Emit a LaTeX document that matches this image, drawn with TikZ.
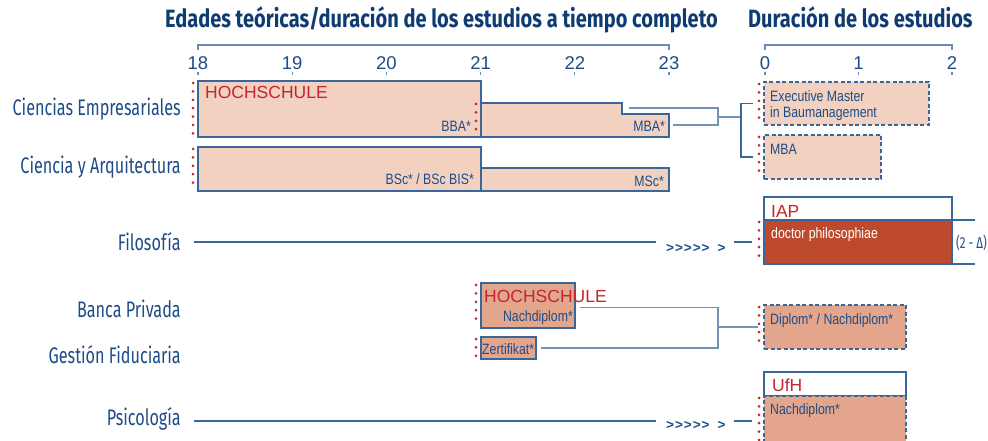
\documentclass[tikz,border=0pt]{standalone}
\usepackage{fontspec}
\setmainfont{Liberation Sans}
\newfontfamily\condfont{Fira Sans}[FakeStretch=0.72]
\newfontfamily\titlefont{Fira Sans}[FakeStretch=0.80]
\newfontfamily\narrowfont{Liberation Sans}[FakeStretch=0.82]
\usetikzlibrary{positioning,calc}
\definecolor{titleblue}{HTML}{0F3B73}
\definecolor{txtblue}{HTML}{1D4C87}
\definecolor{lineblue}{HTML}{3A6799}
\definecolor{connblue}{HTML}{7393BA}
\definecolor{axisblue}{HTML}{6A8BB3}
\definecolor{peachL}{HTML}{F2D1C0}
\definecolor{peachD}{HTML}{E3A68C}
\definecolor{rustred}{HTML}{BD4A2C}
\definecolor{hsred}{HTML}{C1272D}
\newcommand\chevrons{>\kern1pt>\kern1pt>\kern1pt>\kern1pt>\hspace{8pt}>}
\tikzset{
  edge/.style={draw=lineblue,line width=1.1pt},
  box/.style={edge,anchor=north west,inner sep=0pt,outer sep=0pt},
  boxL/.style={box,fill=peachL},
  boxD/.style={box,fill=peachD},
  dashL/.style={boxL,dash pattern=on 4pt off 2.5pt},
  dashD/.style={boxD,dash pattern=on 4pt off 2.5pt},
  head/.style={box,fill=white},
  lbl/.style={anchor=base east,inner sep=0pt,text=txtblue,font=\condfont\fontsize{22.5}{24}\selectfont},
  ttl/.style={anchor=base west,inner sep=0pt,text=titleblue,font=\titlefont\bfseries\fontsize{25}{27}\selectfont},
  tick/.style={anchor=base,inner sep=0pt,text=txtblue,font=\fontsize{18.5}{20}\selectfont},
  btxt/.style={inner sep=0pt,text=txtblue,font=\narrowfont\fontsize{15}{16}\selectfont},
  hs/.style={anchor=base west,inner sep=0pt,text=hsred,font=\fontsize{17.5}{19}\selectfont},
  chev/.style={anchor=base west,inner sep=0pt,text=txtblue,font=\bfseries\fontsize{13.5}{14}\selectfont},
  axis/.style={draw=axisblue,line width=1.3pt},
  conn/.style={draw=connblue,line width=1.4pt},
  conn2/.style={draw=lineblue,line width=1.4pt},
  startdots/.style={draw=hsred,line width=3pt,line cap=round,dash pattern=on 0pt off 8.4pt}
}
\begin{document}
\begin{tikzpicture}[x=1pt,y=-1pt]
\useasboundingbox (0,0) rectangle (988,441);
% titles and scales
\node[ttl] (ttlAge) at (165,28) {Edades teóricas/duración de los estudios a tiempo completo};
\node[ttl] (ttlDur) at (748,28) {Duración de los estudios};
\draw[axis] (198,50) -- (198,45) -- (669,45) -- (669,50);
\foreach \a [count=\i from 0] in {18,...,23} {
  \node[tick] (age\a) at (198+94.2*\i,70) {\a};
  \draw[axis] ([yshift=-2pt]age\a.base) -- ++(0,3);
}
\draw[axis] (765,50) -- (765,45) -- (952,45) -- (952,50);
\foreach \d [count=\i from 0] in {0,1,2} {
  \node[tick] (dur\d) at (765+93.5*\i,70) {\d};
  \draw[axis] ([yshift=-2pt]dur\d.base) -- ++(0,3);
}
% row labels
\node[lbl] (lblCE) at (181,116) {Ciencias Empresariales};
\node[lbl] (lblCA) at (181,173) {Ciencia y Arquitectura};
\node[lbl] (lblFil) at (181,250) {Filosofía};
\node[lbl] (lblBP) at (181,317) {Banca Privada};
\node[lbl] (lblGF) at (181,363) {Gestión Fiduciaria};
\node[lbl] (lblPsy) at (181,425) {Psicología};
% Hochschule bars
\node[boxL,minimum width=283,minimum height=56] (hsBE) at (198,81) {};
\coordinate (mbaNW) at (481,103);
\coordinate (mbaSW) at (481,137);
\coordinate (mbaStep) at (622,108);
\coordinate (mbaEnd) at (669,125);
\coordinate (mbaSE) at (669,137);
\filldraw[edge,fill=peachL] (mbaNW) -- (622,103) -- (622,114) -- (669,114) -- (mbaSE) -- (mbaSW) -- cycle;
\node[boxL,minimum width=283,minimum height=44] (hsCA) at (198,147) {};
\node[boxL,minimum width=188,minimum height=23] (msc) at (481,168) {};
\node[boxD,minimum width=94,minimum height=45] (hsBP) at (481,283) {};
\node[boxD,minimum width=55,minimum height=22] (zert) at (481,337) {};
% study length bars
\node[dashL,minimum width=165,minimum height=43] (exm) at (764,82) {};
\node[dashL,minimum width=117,minimum height=44] (mbaR) at (764,135) {};
\node[head,minimum width=188,minimum height=23] (iap) at (764,197) {};
\node[box,fill=rustred,minimum width=188,minimum height=44] (dphil) at (764,220) {};
\node[dashD,minimum width=142,minimum height=44] (dipl) at (764,305) {};
\node[head,minimum width=142,minimum height=24] (ufh) at (764,372) {};
\node[dashD,minimum width=142,minimum height=50] (nachd) at (764,396) {};
% texts in bars
\node[hs] (hsBEt) at ([xshift=7pt,yshift=-18pt]hsBE.north west) {HOCHSCHULE};
\node[btxt,anchor=base east] (bba) at ([xshift=-10pt,yshift=5pt]hsBE.south east) {BBA*};
\node[btxt,anchor=base east] (mbat) at ([xshift=-4pt,yshift=5pt]mbaSE) {MBA*};
\node[btxt,anchor=base east] (bsc) at ([xshift=-7pt,yshift=6pt]hsCA.south east) {BSc* / BSc BIS*};
\node[btxt,anchor=base east] (msct) at ([xshift=-5pt,yshift=5pt]msc.south east) {MSc*};
\node[btxt,anchor=north west,align=left] (exmt) at ([xshift=6pt,yshift=-8pt]exm.north west) {Executive Master\\in Baumanagement};
\node[btxt,anchor=base west] (mbaRt) at ([xshift=6pt,yshift=-20pt]mbaR.north west) {MBA};
\node[hs] (iapt) at ([xshift=7pt,yshift=-20pt]iap.north west) {IAP};
\node[btxt,anchor=base west,text=white] (dphilt) at ([xshift=7pt,yshift=-18pt]dphil.north west) {doctor philosophiae};
\node[hs] (hsBPt) at ([xshift=3pt,yshift=-19pt]hsBP.north west) {HOCHSCHULE};
\node[btxt,anchor=base east] (ndBP) at ([xshift=-2pt,yshift=7pt]hsBP.south east) {Nachdiplom*};
\node[btxt,anchor=base west] (zertt) at ([xshift=1pt,yshift=5pt]zert.south west) {Zertifikat*};
\node[btxt,anchor=base west] (diplt) at ([xshift=6pt,yshift=-19pt]dipl.north west) {Diplom* / Nachdiplom*};
\node[hs] (ufht) at ([xshift=8pt,yshift=-19pt]ufh.north west) {UfH};
\node[btxt,anchor=base west] (nachdt) at ([xshift=6pt,yshift=-18pt]nachd.north west) {Nachdiplom*};
% start marks
\foreach \n in {hsBE,hsCA,exm,mbaR,dphil,hsBP,zert,dipl,nachd}
  \draw[startdots] ([xshift=-5pt,yshift=-2pt]\n.north west) -- ([xshift=-5pt,yshift=2pt]\n.south west);
\draw[startdots] ([xshift=-5pt,yshift=-1pt]mbaNW) -- ([xshift=-5pt,yshift=2pt]mbaSW);
% connectors
\coordinate (jBE) at (718,117);
\coordinate (brkBE) at (741,117);
\draw[conn] ([xshift=7pt]mbaStep) -| (jBE) |- ([xshift=4pt]mbaEnd);
\draw[conn] (jBE) -- (brkBE);
\draw[conn2] ([xshift=-11pt]exm.west) -| (brkBE) |- ([xshift=-11pt]mbaR.west);
\coordinate (jBP) at (718,327);
\draw[conn] ([xshift=5pt,yshift=-2pt]hsBP.east) -| (jBP) |- ([xshift=5pt]zert.east);
\draw[conn] (jBP) -- ([xshift=-6pt]dipl.west);
\node[chev] (chevFil) at (666,252) {\chevrons};
\node[chev] (chevPsy) at (666,429) {\chevrons};
\draw[conn2] ([xshift=13pt]lblFil.east |- dphil.west) -- ([xshift=-10pt]chevFil.west |- dphil.west);
\draw[conn2] ([xshift=8pt]chevFil.east |- dphil.west) -- ([xshift=-12pt]dphil.west);
\draw[conn2] ([xshift=13pt]lblPsy.east |- nachd.west) -- ([xshift=-10pt]chevPsy.west |- nachd.west);
\draw[conn2] ([xshift=8pt]chevPsy.east |- nachd.west) -- ([xshift=-12pt]nachd.west);
\draw[conn2] (dphil.north east) -- ++(23,0);
\draw[conn2] (dphil.south east) -- ++(23,0);
\node[anchor=base west,inner sep=0pt,text=txtblue,font=\condfont\fontsize{16}{17}\selectfont] (delta) at ([xshift=4pt,yshift=-28pt]dphil.north east) {(2 - Δ)};
\end{tikzpicture}
\end{document}
